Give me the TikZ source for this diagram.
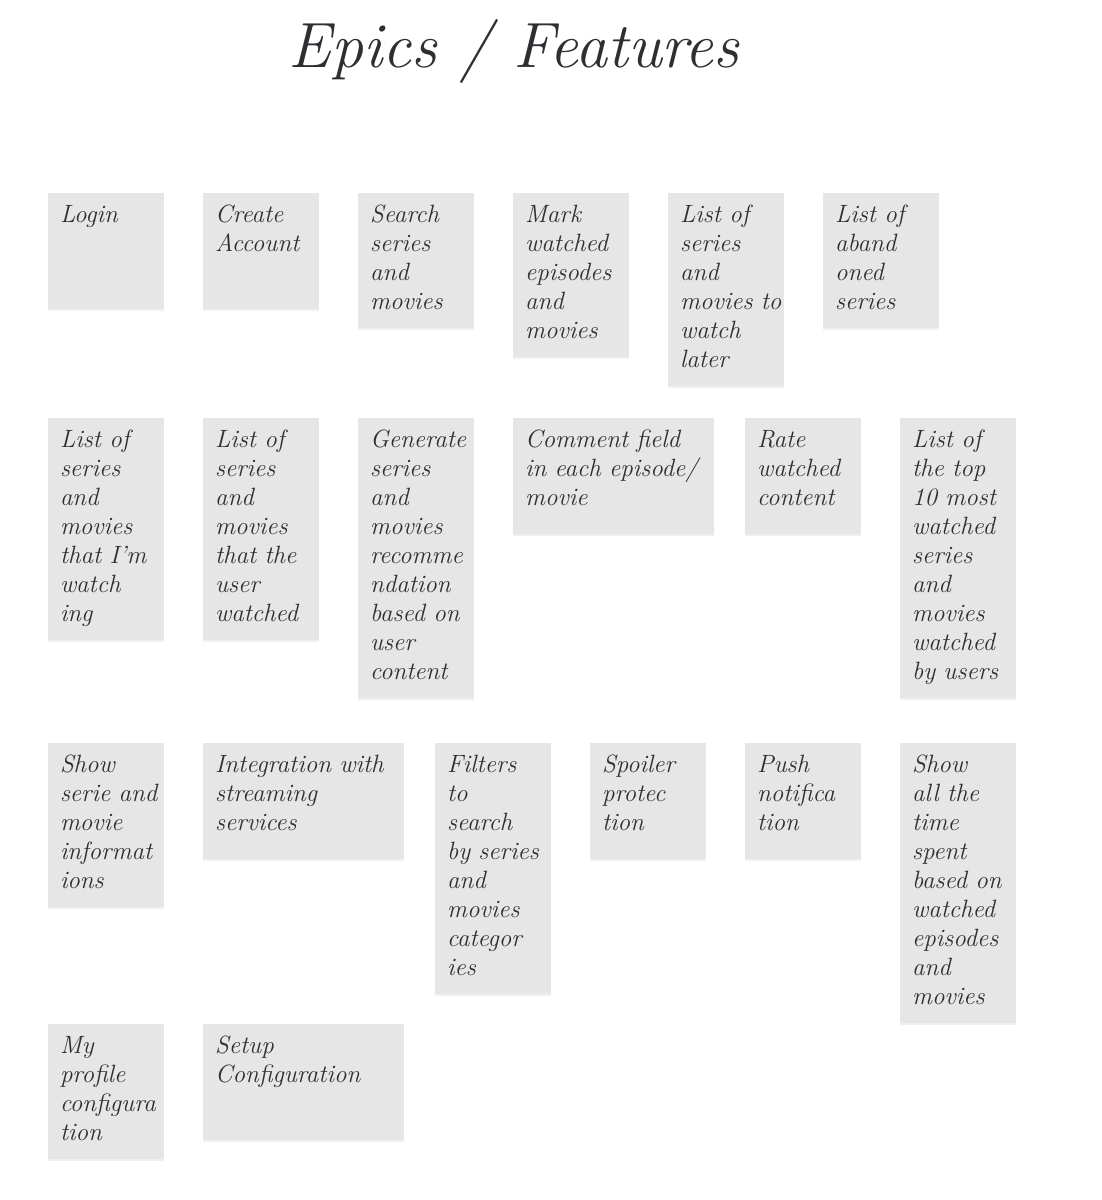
\documentclass[tikz,border=0pt]{standalone}
\usepackage{tikz}
\usetikzlibrary{positioning,shadows}
\definecolor{lap}{HTML}{E6E6E6}
\definecolor{tinta}{HTML}{2E2E33}
\tikzset{
  jegyzet/.style={fill=lap,anchor=north west,inner xsep=6pt,inner ysep=4.75pt,outer sep=0pt,
                  align=left,text width=46pt,minimum height=58pt,text=tinta,
                  font=\fontsize{12.5}{14.5}\selectfont\itshape,
                  execute at begin node=\strut,execute at end node=\strut,
                  drop shadow={shadow xshift=0pt,shadow yshift=-1pt,opacity=.12}},
  rovid/.style={text depth=38.35pt},
  szeles/.style={jegyzet,text width=88.5pt},
  cim/.style={text=tinta,font=\fontsize{32}{38}\selectfont\itshape,anchor=base},
}

\begin{document}
\begin{tikzpicture}[x=0.5pt,y=-0.5pt]
  \useasboundingbox (0,0) rectangle (1102,1200);
  \node[cim] (title) at (514,67) {Epics / Features};
  % first row
  \node[jegyzet,rovid] (login) at (48,193) {Login};
  \node[jegyzet,rovid,below right=0pt and 19.5pt of login.north east] (account) {Create\\Account};
  \node[jegyzet,below right=0pt and 19.5pt of account.north east] (search) {Search\\series\\and\\movies};
  \node[jegyzet,below right=0pt and 19.5pt of search.north east] (mark) {Mark\\watched\\episodes\\and\\movies};
  \node[jegyzet,below right=0pt and 19.5pt of mark.north east] (later) {List~of\\series\\and\\movies~to\\watch\\later};
  \node[jegyzet,below right=0pt and 19.5pt of later.north east] (abandoned) {List~of\\aband\\oned\\series};
  % second row
  \node[jegyzet] (watching) at (48,418) {List~of\\series\\and\\movies\\that~I'm\\watch\\ing};
  \node[jegyzet,below right=0pt and 19.5pt of watching.north east] (watched) {List~of\\series\\and\\movies\\that~the\\user\\watched};
  \node[jegyzet,below right=0pt and 19.5pt of watched.north east] (recommend) {Generate\\series\\and\\movies\\recomme\\ndation\\based~on\\user\\content};
  \node[szeles,rovid,below right=0pt and 19.5pt of recommend.north east] (comment) {Comment~field\\in~each~episode/\\movie};
  \node[jegyzet,rovid,below right=0pt and 15.5pt of comment.north east] (rate) {Rate\\watched\\content};
  \node[jegyzet,below right=0pt and 19.5pt of rate.north east] (top) {List~of\\the~top\\10~most\\watched\\series\\and\\movies\\watched\\by~users};
  % third row
  \node[jegyzet] (info) at (48,743) {Show\\serie~and\\movie\\informat\\ions};
  \node[szeles,rovid,below right=0pt and 19.5pt of info.north east] (streaming) {Integration~with\\streaming\\services};
  \node[jegyzet,below right=0pt and 15.5pt of streaming.north east] (filters) {Filters\\to\\search\\by~series\\and\\movies\\categor\\ies};
  \node[jegyzet,rovid,below right=0pt and 19.5pt of filters.north east] (spoiler) {Spoiler\\protec\\tion};
  \node[jegyzet,rovid,below right=0pt and 19.5pt of spoiler.north east] (push) {Push\\notifica\\tion};
  \node[jegyzet,below right=0pt and 19.5pt of push.north east] (timespent) {Show\\all~the\\time\\spent\\based~on\\watched\\episodes\\and\\movies};
  % fourth row
  \node[jegyzet] (profile) at (48,1024) {My\\profile\\configura\\tion};
  \node[szeles,rovid,below right=0pt and 19.5pt of profile.north east] (setup) {Setup\\Configuration};
\end{tikzpicture}
\end{document}
